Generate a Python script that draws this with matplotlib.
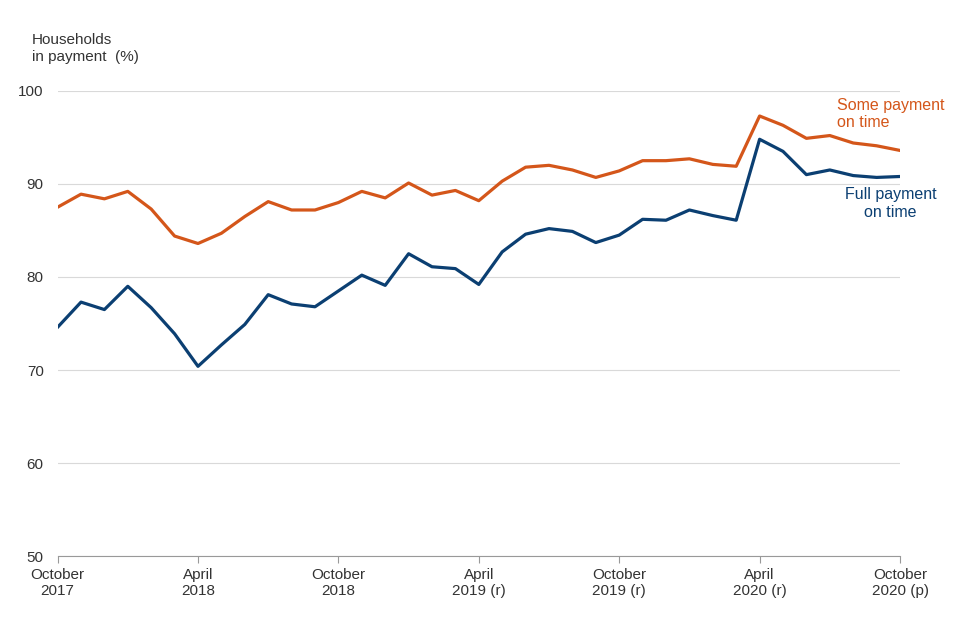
import matplotlib.pyplot as plt

# Monthly values, October 2017 to October 2020
some_payment = [87.5, 88.9, 88.4, 89.2, 87.3, 84.4, 83.6, 84.7, 86.5, 88.1, 87.2, 87.2,
                88.0, 89.2, 88.5, 90.1, 88.8, 89.3, 88.2, 90.3, 91.8, 92.0, 91.5, 90.7,
                91.4, 92.5, 92.5, 92.7, 92.1, 91.9, 97.3, 96.3, 94.9, 95.2, 94.4, 94.1, 93.6]
full_payment = [74.6, 77.3, 76.5, 79.0, 76.7, 73.9, 70.4, 72.7, 74.9, 78.1, 77.1, 76.8,
                78.5, 80.2, 79.1, 82.5, 81.1, 80.9, 79.2, 82.7, 84.6, 85.2, 84.9, 83.7,
                84.5, 86.2, 86.1, 87.2, 86.6, 86.1, 94.8, 93.5, 91.0, 91.5, 90.9, 90.7, 90.8]
tick_pos = [0, 6, 12, 18, 24, 30, 36]
tick_labels = ['October\n2017', 'April\n2018', 'October\n2018', 'April\n2019 (r)',
               'October\n2019 (r)', 'April\n2020 (r)', 'October\n2020 (p)']

orange = '#D4561A'
blue = '#0B3F72'

fig = plt.figure(figsize=(9.6, 6.4), dpi=100)
ax = fig.add_axes([0.06, 0.131, 0.8775, 0.727])

x = range(len(some_payment))
ax.plot(x, some_payment, color=orange, lw=2.3)
ax.plot(x, full_payment, color=blue, lw=2.3)

ax.set_xlim(0, 36)
ax.set_ylim(50, 100)
ax.set_yticks(range(50, 101, 10))
ax.grid(axis='y', color='#d9d9d9', lw=0.8)
ax.set_axisbelow(True)
for s in ['top', 'right', 'left']:
    ax.spines[s].set_visible(False)
ax.spines['bottom'].set_color('#999999')
ax.set_xticks(tick_pos)
ax.set_xticklabels(tick_labels, fontsize=11, color='#333333', family='Liberation Sans')
ax.tick_params(axis='x', length=5, color='#999999')
ax.tick_params(axis='y', length=0, labelsize=11, labelcolor='#333333', pad=10)
for lab in ax.get_yticklabels():
    lab.set_family('Liberation Sans')

fig.text(0.033, 0.9, 'Households\nin payment  (%)', fontsize=11, color='#333333',
         family='Liberation Sans', va='bottom', linespacing=1.3)
ax.text(33.3, 97.5, 'Some payment\non time', color=orange, fontsize=11.5,
        family='Liberation Sans', va='center')
ax.text(35.6, 87.9, 'Full payment\non time', color=blue, fontsize=11.5,
        family='Liberation Sans', va='center', ha='center', multialignment='center')

fig.savefig('out.png')
